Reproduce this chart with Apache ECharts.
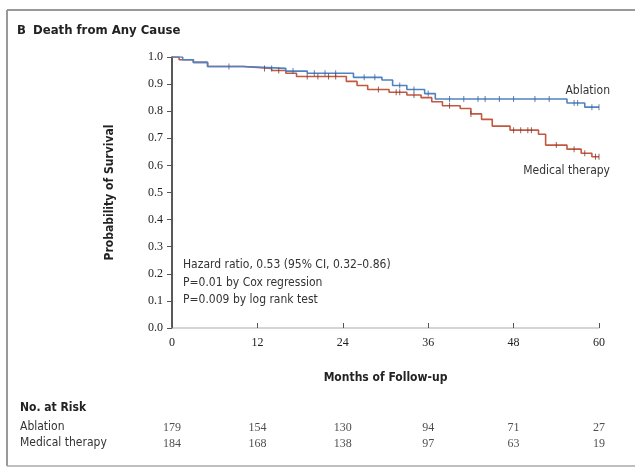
<!DOCTYPE html>
<html><head><meta charset="utf-8">
<script src="https://cdn.jsdelivr.net/npm/echarts@6/dist/echarts.min.js"></script>
<style>html,body{margin:0;padding:0;background:#fff}#c{width:635px;height:476px}</style>
</head><body><div id="c"></div>
<script>
// ---- data ----
var ablationTime = [0, 1.5, 3, 5, 10, 16, 19, 25.5, 29.5, 31, 33, 35.5, 37, 55.5, 58, 60];
var ablationSurv = [1.0, 0.99, 0.98, 0.965, 0.958, 0.948, 0.94, 0.925, 0.915, 0.895, 0.88, 0.865, 0.845, 0.83, 0.815, 0.815];
var medicalTime = [0, 1, 3, 5, 10, 14, 16, 17.5, 24.5, 26, 27.5, 30.5, 33, 35, 36.5, 38, 40.5, 42, 43.5, 45, 47.5, 51.5, 52.5, 55.5, 57.5, 59, 60];
var medicalSurv = [1.0, 0.99, 0.98, 0.965, 0.958, 0.95, 0.94, 0.928, 0.91, 0.895, 0.88, 0.87, 0.86, 0.85, 0.835, 0.82, 0.81, 0.79, 0.77, 0.745, 0.73, 0.715, 0.675, 0.66, 0.645, 0.632, 0.632];
var ablationCensor = [8, 14, 17, 20, 21.5, 23, 27, 28.5, 32, 34, 36, 39, 41, 43, 44, 46, 48, 51, 53, 56.5, 57, 59, 60];
var medicalCensor = [13, 15, 19, 20.5, 22, 23, 29, 31.5, 32, 34, 39, 42, 48, 49, 50, 50.5, 54, 56.5, 58, 59.5, 60];
var xTicks = [0, 12, 24, 36, 48, 60];
var riskAblation = [179, 154, 130, 94, 71, 27];
var riskMedical = [184, 168, 138, 97, 63, 19];
var yMin = 0, yMax = 1, yStep = 0.1;
var annotations = ['Hazard ratio, 0.53 (95% CI, 0.32\u20130.86)', 'P=0.01 by Cox regression', 'P=0.009 by log rank test'];

function stepVal(times, surv, t) {
  var v = surv[0];
  for (var i = 0; i < times.length; i++) { if (times[i] <= t) v = surv[i]; }
  return v;
}
function pairs(a, b) { return a.map(function (t, i) { return [t, b[i]]; }); }
function censorPts(ct, times, surv) { return ct.map(function (t) { return [t, stepVal(times, surv, t)]; }); }

var SANS = '"DejaVu Sans Condensed", "Liberation Sans", sans-serif';
var SERIF = '"Liberation Serif", serif';
var blue = '#4f82c4', red = '#c2583f';

var chart = echarts.init(document.getElementById('c'));
var riskRow = function (arr, row) { return arr.map(function (v, i) { return { value: [xTicks[i], row], label: { formatter: String(v) } }; }); };

chart.setOption({
  animation: false,
  backgroundColor: '#fff',
  grid: [
    { left: 172, right: 36, top: 57, bottom: 148 },
    { left: 172, right: 36, top: 420, height: 32 }
  ],
  xAxis: [
    { gridIndex: 0, type: 'value', min: 0, max: 60, interval: 12,
      axisLine: { lineStyle: { color: '#c8c8c8', width: 1.5 } },
      axisTick: { inside: true, length: 5, lineStyle: { color: '#555' } },
      splitLine: { show: false },
      axisLabel: { color: '#222', fontFamily: SERIF, fontSize: 12, margin: 9 },
      name: 'Months of Follow-up', nameLocation: 'middle', nameGap: 44,
      nameTextStyle: { color: '#222', fontWeight: 'bold', fontFamily: SANS, fontSize: 12 } },
    { gridIndex: 1, type: 'value', min: 0, max: 60, show: false }
  ],
  yAxis: [
    { gridIndex: 0, type: 'value', min: yMin, max: yMax, interval: yStep,
      axisLine: { show: true, lineStyle: { color: '#222', width: 1.5 } },
      axisTick: { show: true, length: 5, lineStyle: { color: '#555' } },
      splitLine: { show: false },
      axisLabel: { color: '#222', fontFamily: SERIF, fontSize: 12, margin: 9, formatter: function (v) { return v.toFixed(1); } },
      name: 'Probability of Survival', nameLocation: 'middle', nameGap: 56,
      nameTextStyle: { color: '#222', fontWeight: 'bold', fontFamily: SANS, fontSize: 12 } },
    { gridIndex: 1, type: 'category', data: ['Medical therapy', 'Ablation'], show: false }
  ],
  series: [
    { type: 'line', step: 'end', data: pairs(ablationTime, ablationSurv), showSymbol: false,
      lineStyle: { color: blue, width: 1.6 }, z: 3 },
    { type: 'line', step: 'end', data: pairs(medicalTime, medicalSurv), showSymbol: false,
      lineStyle: { color: red, width: 1.6 }, z: 2 },
    { type: 'scatter', data: censorPts(ablationCensor, ablationTime, ablationSurv),
      symbol: 'rect', symbolSize: [1, 6], itemStyle: { color: '#3a5f95' }, z: 4 },
    { type: 'scatter', data: censorPts(medicalCensor, medicalTime, medicalSurv),
      symbol: 'rect', symbolSize: [1, 6], itemStyle: { color: '#7a3a2a' }, z: 4 },
    { type: 'scatter', xAxisIndex: 1, yAxisIndex: 1, symbolSize: 0,
      data: riskRow(riskAblation, 'Ablation').concat(riskRow(riskMedical, 'Medical therapy')),
      label: { show: true, position: 'inside', color: '#222', fontFamily: SERIF, fontSize: 12 } }
  ],
  graphic: [
    { type: 'line', shape: { x1: 7, y1: 10, x2: 635, y2: 10 }, style: { stroke: '#999', lineWidth: 2 } },
    { type: 'line', shape: { x1: 7, y1: 10, x2: 7, y2: 466 }, style: { stroke: '#999', lineWidth: 2 } },
    { type: 'line', shape: { x1: 7, y1: 466, x2: 635, y2: 466 }, style: { stroke: '#aaa', lineWidth: 1.5 } },
    { type: 'text', left: 17, top: 24, style: { text: 'B', fill: '#222', font: 'bold 13px ' + SANS } },
    { type: 'text', left: 33, top: 24, style: { text: 'Death from Any Cause', fill: '#222', font: 'bold 13px ' + SANS } },
    { type: 'text', right: 25, top: 85, style: { text: 'Ablation', fill: '#333', font: '12px ' + SANS } },
    { type: 'text', right: 25, top: 165, style: { text: 'Medical therapy', fill: '#333', font: '12px ' + SANS } },
    { type: 'text', left: 183, top: 259, style: { text: annotations[0], fill: '#333', font: '12px ' + SANS } },
    { type: 'text', left: 183, top: 277, style: { text: annotations[1], fill: '#333', font: '12px ' + SANS } },
    { type: 'text', left: 183, top: 294, style: { text: annotations[2], fill: '#333', font: '12px ' + SANS } },
    { type: 'text', left: 20, top: 402, style: { text: 'No. at Risk', fill: '#222', font: 'bold 12px ' + SANS } },
    { type: 'text', left: 20, top: 421, style: { text: 'Ablation', fill: '#333', font: '12px ' + SANS } },
    { type: 'text', left: 20, top: 437, style: { text: 'Medical therapy', fill: '#333', font: '12px ' + SANS } }
  ]
});
</script></body></html>
